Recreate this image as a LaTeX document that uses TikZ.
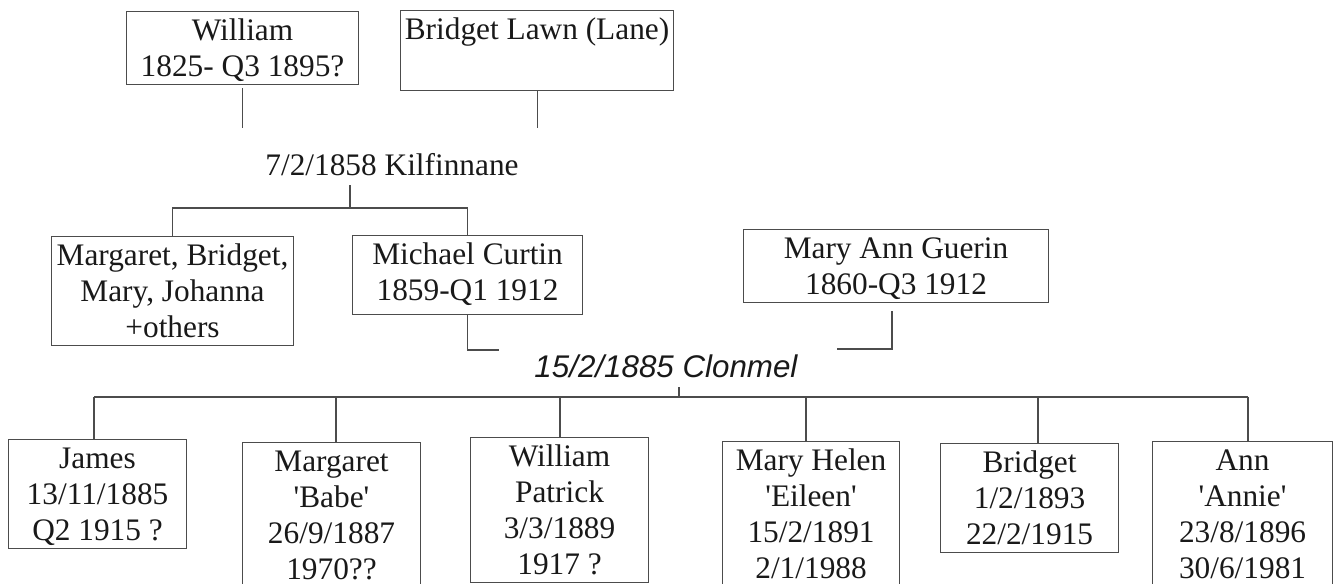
\documentclass[tikz,border=0pt]{standalone}
\usepackage{fontspec}
\setmainfont{Liberation Serif}
\newfontfamily\weddingfont{Liberation Sans}
\usetikzlibrary{positioning}

% struts for the first and the last line of a box
\newcommand{\firstrow}{\rule{0pt}{22pt}}
\newcommand{\lastrow}[1][6pt]{\rule[-#1]{0pt}{0pt}}

\tikzset{
  person/.style={draw=black!70, line width=0.8pt, anchor=north west, align=center,
    inner xsep=1pt, inner ysep=0pt, text=black!90,
    font=\fontsize{23.5}{27}\selectfont},
  boxw/.style={minimum width=#1*0.75pt},
  wedding/.style={anchor=base, inner sep=0pt, text=black!90, font=\fontsize{23.5}{27}\selectfont},
  link/.style={draw=black!70, line width=0.8pt}
}

\begin{document}
\begin{tikzpicture}[x=0.75pt, y=-0.75pt]
  \useasboundingbox (0,0) rectangle (1336,584);

  % grandparents
  \node[person, boxw=232] (wil) at (126,11) {\firstrow William\\1825- Q3 1895?\lastrow};
  \node[person, boxw=273] (bridl) at (400,10) {\firstrow Bridget Lawn (Lane)\lastrow[38.25pt]};

  \coordinate (top-join) at (390,128);
  \draw[link] ([yshift=-2.25pt]wil.south) -- (wil.south |- top-join);
  \draw[link] (bridl.south) -- (bridl.south |- top-join);

  \node[wedding] (kilf) at (392,176) {7/2/1858 Kilfinnane};

  % their children
  \node[person, boxw=242] (sibs) at (51,236) {\firstrow Margaret, Bridget,\\Mary, Johanna\\+others\lastrow};
  \node[person, boxw=230] (mich) at (352,235) {\firstrow Michael Curtin\\1859-Q1 1912\lastrow[10.5pt]};
  \node[person, boxw=305] (mary) at (743,229) {\firstrow Mary Ann Guerin\\1860-Q3 1912\lastrow};

  \coordinate (kilf-fork) at (350,208);
  \draw[link] (kilf-fork) -- ++(0,-23);
  \draw[link] (sibs.north) |- (kilf-fork) -| (mich.north);

  \coordinate (mich-end) at (499,350);
  \coordinate (mary-corner) at (892,349);
  \coordinate (mary-end) at (837,349);
  \draw[link] (mich.south) |- (mich-end);
  \draw[link] (mary-corner |- mary.south) ++(0,8) -- (mary-corner) -- (mary-end);

  \node[wedding, font=\fontsize{23.5}{27}\selectfont\weddingfont\itshape] (clon) at (666,378) {15/2/1885 Clonmel};

  % grandchildren
  \node[person, boxw=178] (james) at (8,439) {\firstrow James\\13/11/1885\\Q2 1915 ?\lastrow};
  \node[person, boxw=178] (babe) at (242,442) {\firstrow Margaret\\\textquotesingle Babe\textquotesingle\\26/9/1887\\1970??\lastrow};
  \node[person, boxw=178] (wpat) at (470,437) {\firstrow William\\Patrick\\3/3/1889\\1917 ?\lastrow};
  \node[person, boxw=177] (eileen) at (722,441) {\firstrow Mary Helen\\\textquotesingle Eileen\textquotesingle\\15/2/1891\\2/1/1988\lastrow};
  \node[person, boxw=178] (bridg) at (940,443) {\firstrow Bridget\\1/2/1893\\22/2/1915\lastrow};
  \node[person, boxw=180] (ann) at (1152,441) {\firstrow Ann\\\textquotesingle Annie\textquotesingle\\23/8/1896\\30/6/1981\lastrow};

  \coordinate (kids-fork) at (679,397);
  \draw[link] (kids-fork) -- ++(0,-10);
  \foreach \kid/\xx in {james/94, babe/336, wpat/560, eileen/806, bridg/1038, ann/1248} {
    \coordinate (drop-\kid) at (\xx,397);
    \draw[link] (drop-\kid) -- (drop-\kid |- \kid.north);
  }
  \draw[link] (drop-james) -- (drop-ann);
\end{tikzpicture}
\end{document}
